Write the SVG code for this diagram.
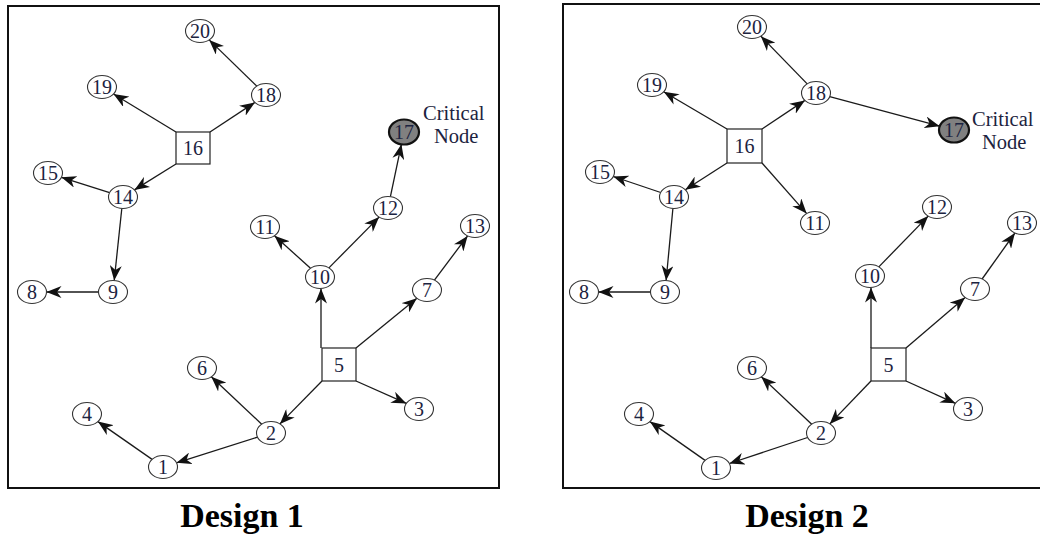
<svg xmlns="http://www.w3.org/2000/svg" width="1040" height="545" viewBox="0 0 1040 545">
  <style>
    .frame { fill: none; stroke: #111; stroke-width: 2; }
    .nd ellipse { fill: #fff; stroke: #333; stroke-width: 1.1; }
    .nd rect { fill: #fff; stroke: #222; stroke-width: 1.2; }
    .crit ellipse { fill: #808080; stroke: #111; stroke-width: 2.2; }
    .nd text, .note { font-family: "Liberation Serif", "Times New Roman", serif; font-size: 20px; fill: #1c2340; text-anchor: middle; }
    .note { font-size: 20.5px; text-anchor: start; }
    .edges line { stroke: #1a1a1a; stroke-width: 1.3; marker-end: url(#arr); }
    .cap { font-family: "Liberation Serif", "Times New Roman", serif; font-weight: bold; font-size: 34px; fill: #000; text-anchor: middle; }
  </style>
  <defs>
    <marker id="arr" markerUnits="userSpaceOnUse" markerWidth="15" markerHeight="12" refX="15" refY="6" orient="auto">
      <path d="M0,0 L15,6 L0,12 L4.5,6 Z" fill="#111"/>
    </marker>
  </defs>
  <rect width="1040" height="545" fill="#fff"/>

  <!-- panel frames -->
  <rect class="frame" x="8" y="6" width="491" height="482"/>
  <rect class="frame" x="563" y="4" width="490" height="484"/>

  <!-- ===== Design 1 ===== -->
  <g id="design1-edges" class="edges">
    <line x1="176" y1="132" x2="113.5" y2="94"/>
    <line x1="210" y1="132" x2="254.9" y2="102.4"/>
    <line x1="176" y1="164" x2="134.4" y2="189.9"/>
    <line x1="256.8" y1="86.1" x2="209.2" y2="39.9"/>
    <line x1="109.6" y1="192.7" x2="61.4" y2="177.3"/>
    <line x1="121.8" y1="208.5" x2="114.2" y2="280.5"/>
    <line x1="98.5" y1="292" x2="46.5" y2="292"/>
    <line x1="390.4" y1="196.7" x2="401.4" y2="144.3"/>
    <line x1="310.5" y1="268.3" x2="274.5" y2="235.7"/>
    <line x1="328.9" y1="267.9" x2="379.1" y2="217.1"/>
    <line x1="321" y1="348" x2="321" y2="288.5"/>
    <line x1="356" y1="348" x2="416.9" y2="298.2"/>
    <line x1="434.4" y1="280.1" x2="467.6" y2="235.9"/>
    <line x1="356" y1="381" x2="406.4" y2="403.4"/>
    <line x1="322" y1="381" x2="279.9" y2="423.9"/>
    <line x1="261.7" y1="424.2" x2="211.3" y2="376.8"/>
    <line x1="257.5" y1="437.2" x2="176.5" y2="462.8"/>
    <line x1="152.1" y1="459.4" x2="97.9" y2="421.6"/>
  </g>

  <g id="d1-n16" class="nd"><rect x="176" y="132" width="34" height="32"/><text x="193" y="155">16</text></g>
  <g id="d1-n5" class="nd"><rect x="322" y="348" width="34" height="33"/><text x="339" y="371.5">5</text></g>
  <g id="d1-n20" class="nd"><ellipse cx="200" cy="31" rx="14.5" ry="11.5"/><text x="200" y="38">20</text></g>
  <g id="d1-n19" class="nd"><ellipse cx="102" cy="87" rx="14.5" ry="11.5"/><text x="102" y="94">19</text></g>
  <g id="d1-n18" class="nd"><ellipse cx="266" cy="95" rx="14.5" ry="11.5"/><text x="266" y="102">18</text></g>
  <g id="d1-n15" class="nd"><ellipse cx="48" cy="173" rx="14.5" ry="11.5"/><text x="48" y="180">15</text></g>
  <g id="d1-n14" class="nd"><ellipse cx="123" cy="197" rx="14.5" ry="11.5"/><text x="123" y="204">14</text></g>
  <g id="d1-n17" class="nd crit"><ellipse cx="404" cy="132" rx="15" ry="12.5"/><text x="404" y="139">17</text></g>
  <text class="note" x="423" y="120">Critical</text>
  <text class="note" x="434" y="143">Node</text>
  <g id="d1-n12" class="nd"><ellipse cx="388" cy="208" rx="14.5" ry="11.5"/><text x="388" y="215">12</text></g>
  <g id="d1-n11" class="nd"><ellipse cx="265" cy="227" rx="14.5" ry="11.5"/><text x="265" y="234">11</text></g>
  <g id="d1-n13" class="nd"><ellipse cx="475" cy="226" rx="14.5" ry="11.5"/><text x="475" y="233">13</text></g>
  <g id="d1-n10" class="nd"><ellipse cx="320" cy="277" rx="14.5" ry="11.5"/><text x="320" y="284">10</text></g>
  <g id="d1-n7" class="nd"><ellipse cx="427" cy="290" rx="14.5" ry="11.5"/><text x="427" y="297">7</text></g>
  <g id="d1-n9" class="nd"><ellipse cx="113" cy="292" rx="14.5" ry="11.5"/><text x="113" y="299">9</text></g>
  <g id="d1-n8" class="nd"><ellipse cx="32" cy="292" rx="14.5" ry="11.5"/><text x="32" y="299">8</text></g>
  <g id="d1-n6" class="nd"><ellipse cx="202" cy="368" rx="14.5" ry="11.5"/><text x="202" y="375">6</text></g>
  <g id="d1-n3" class="nd"><ellipse cx="419" cy="409" rx="14.5" ry="11.5"/><text x="419" y="416">3</text></g>
  <g id="d1-n4" class="nd"><ellipse cx="87" cy="414" rx="14.5" ry="11.5"/><text x="87" y="421">4</text></g>
  <g id="d1-n2" class="nd"><ellipse cx="271" cy="433" rx="14.5" ry="11.5"/><text x="271" y="440">2</text></g>
  <g id="d1-n1" class="nd"><ellipse cx="163" cy="467" rx="14.5" ry="11.5"/><text x="163" y="474">1</text></g>

  <!-- ===== Design 2 ===== -->
  <g id="design2-edges" class="edges">
    <line x1="727" y1="129" x2="663.7" y2="91.8"/>
    <line x1="762" y1="129" x2="804.9" y2="100.4"/>
    <line x1="727" y1="163" x2="685.3" y2="189.8"/>
    <line x1="762" y1="163" x2="806.7" y2="213.6"/>
    <line x1="807.2" y1="83.9" x2="760.8" y2="36.1"/>
    <line x1="829.7" y1="96.7" x2="939.7" y2="126.2"/>
    <line x1="660.7" y1="192.5" x2="613.3" y2="176.5"/>
    <line x1="672.9" y1="208.5" x2="666.1" y2="280.5"/>
    <line x1="650.5" y1="292" x2="598.5" y2="292"/>
    <line x1="878.8" y1="266.9" x2="928.2" y2="216.1"/>
    <line x1="871" y1="348" x2="871" y2="287.5"/>
    <line x1="906" y1="348" x2="965.1" y2="297.4"/>
    <line x1="982.1" y1="279" x2="1014.9" y2="233"/>
    <line x1="906" y1="381" x2="955.4" y2="403.3"/>
    <line x1="871" y1="381" x2="829.8" y2="423.9"/>
    <line x1="811.7" y1="424.2" x2="761.3" y2="376.8"/>
    <line x1="807.6" y1="437.5" x2="729.4" y2="463.5"/>
    <line x1="705.1" y1="460.4" x2="649.9" y2="421.6"/>
  </g>

  <g id="d2-n16" class="nd"><rect x="727" y="129" width="35" height="34"/><text x="744.5" y="153">16</text></g>
  <g id="d2-n5" class="nd"><rect x="871" y="348" width="35" height="33"/><text x="888.5" y="371.5">5</text></g>
  <g id="d2-n20" class="nd"><ellipse cx="752" cy="27" rx="14.5" ry="11.5"/><text x="752" y="34">20</text></g>
  <g id="d2-n19" class="nd"><ellipse cx="652" cy="85" rx="14.5" ry="11.5"/><text x="652" y="92">19</text></g>
  <g id="d2-n18" class="nd"><ellipse cx="816" cy="93" rx="14.5" ry="11.5"/><text x="816" y="100">18</text></g>
  <g id="d2-n17" class="nd crit"><ellipse cx="954" cy="130" rx="15" ry="12.5"/><text x="954" y="137">17</text></g>
  <text class="note" x="972" y="126">Critical</text>
  <text class="note" x="982" y="149">Node</text>
  <g id="d2-n15" class="nd"><ellipse cx="600" cy="172" rx="14.5" ry="11.5"/><text x="600" y="179">15</text></g>
  <g id="d2-n14" class="nd"><ellipse cx="674" cy="197" rx="14.5" ry="11.5"/><text x="674" y="204">14</text></g>
  <g id="d2-n12" class="nd"><ellipse cx="937" cy="207" rx="14.5" ry="11.5"/><text x="937" y="214">12</text></g>
  <g id="d2-n11" class="nd"><ellipse cx="815" cy="223" rx="14.5" ry="11.5"/><text x="815" y="230">11</text></g>
  <g id="d2-n13" class="nd"><ellipse cx="1022" cy="223" rx="14.5" ry="11.5"/><text x="1022" y="230">13</text></g>
  <g id="d2-n10" class="nd"><ellipse cx="870" cy="276" rx="14.5" ry="11.5"/><text x="870" y="283">10</text></g>
  <g id="d2-n7" class="nd"><ellipse cx="975" cy="289" rx="14.5" ry="11.5"/><text x="975" y="296">7</text></g>
  <g id="d2-n9" class="nd"><ellipse cx="665" cy="292" rx="14.5" ry="11.5"/><text x="665" y="299">9</text></g>
  <g id="d2-n8" class="nd"><ellipse cx="584" cy="292" rx="14.5" ry="11.5"/><text x="584" y="299">8</text></g>
  <g id="d2-n6" class="nd"><ellipse cx="752" cy="368" rx="14.5" ry="11.5"/><text x="752" y="375">6</text></g>
  <g id="d2-n3" class="nd"><ellipse cx="968" cy="409" rx="14.5" ry="11.5"/><text x="968" y="416">3</text></g>
  <g id="d2-n4" class="nd"><ellipse cx="639" cy="414" rx="14.5" ry="11.5"/><text x="639" y="421">4</text></g>
  <g id="d2-n2" class="nd"><ellipse cx="821" cy="433" rx="14.5" ry="11.5"/><text x="821" y="440">2</text></g>
  <g id="d2-n1" class="nd"><ellipse cx="716" cy="468" rx="14.5" ry="11.5"/><text x="716" y="475">1</text></g>

  <!-- captions -->
  <text class="cap" x="242" y="527">Design 1</text>
  <text class="cap" x="807" y="527">Design 2</text>
</svg>
